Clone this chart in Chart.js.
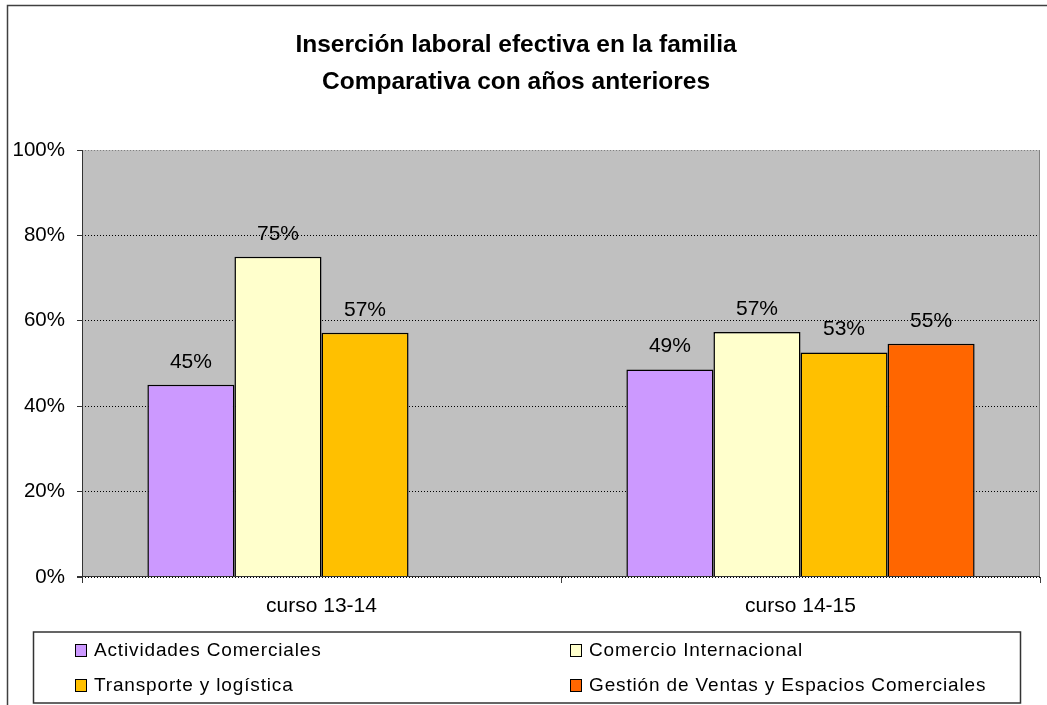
<!DOCTYPE html>
<html><head><meta charset="utf-8">
<script src="https://cdn.jsdelivr.net/npm/chart.js@4.4.1/dist/chart.umd.min.js"></script>
<style>html,body{margin:0;padding:0;background:#fff;overflow:hidden}</style>
</head><body>
<canvas id="c" width="1047" height="705"></canvas>
<script>
const titleLines = ['Inserción laboral efectiva en la familia', 'Comparativa con años anteriores'];
const categories = ['curso 13-14', 'curso 14-15'];
const seriesNames = ['Actividades Comerciales', 'Comercio Internacional', 'Transporte y logística', 'Gestión de Ventas y Espacios Comerciales'];
const actividadesComerciales = [0.45, 0.486];
const comercioInternacional = [0.75, 0.574];
const transporteLogistica = [0.572, 0.526];
const gestionVentas = [null, 0.546];
const yTickValues = [0, 0.2, 0.4, 0.6, 0.8, 1.0];
const seriesColors = ['#CC99FF', '#FFFFCC', '#FFC000', '#FF6600'];

const FONT = 'Arial, "Liberation Sans", sans-serif';
const seriesValues = [actividadesComerciales, comercioInternacional, transporteLogistica, gestionVentas];

const framePlugin = {
  id: 'frame',
  beforeDraw(chart) {
    const {ctx, chartArea: a} = chart;
    ctx.save();
    ctx.fillStyle = '#C0C0C0';
    ctx.fillRect(a.left, a.top, a.right - a.left, a.bottom - a.top);
    // outer frame
    ctx.strokeStyle = '#404040';
    ctx.lineWidth = 1.5;
    ctx.beginPath();
    ctx.moveTo(7.5, 710); ctx.lineTo(7.5, 5.5); ctx.lineTo(1060, 5.5);
    ctx.stroke();
    // title
    ctx.fillStyle = '#000';
    ctx.font = 'bold 24.5px ' + FONT;
    ctx.textAlign = 'center';
    ctx.textBaseline = 'middle';
    ctx.fillText(titleLines[0], 516, 45);
    ctx.fillText(titleLines[1], 516, 82);
    ctx.restore();
  },
  afterDraw(chart) {
    const {ctx, chartArea: a} = chart;
    ctx.save();
    // plot borders
    ctx.lineWidth = 1;
    ctx.strokeStyle = '#808080';
    ctx.beginPath();
    ctx.moveTo(Math.round(a.right) - 0.5, a.top); ctx.lineTo(Math.round(a.right) - 0.5, a.bottom);
    ctx.stroke();
    ctx.strokeStyle = '#333';
    ctx.beginPath();
    ctx.moveTo(Math.round(a.left) + 0.5, a.top); ctx.lineTo(Math.round(a.left) + 0.5, a.bottom + 6);
    ctx.moveTo(a.left - 5, Math.round(a.bottom) - 0.5); ctx.lineTo(a.right, Math.round(a.bottom) - 0.5);
    ctx.stroke();

    // data labels
    ctx.fillStyle = '#000';
    ctx.font = '21px ' + FONT;
    ctx.textAlign = 'center';
    ctx.textBaseline = 'middle';
    chart.data.datasets.forEach((ds, di) => {
      const meta = chart.getDatasetMeta(di);
      meta.data.forEach((bar, i) => {
        const v = ds.data[i];
        if (v === null || v === undefined) return;
        ctx.fillText(Math.round(v * 100) + '%', bar.x, bar.y - 23);
      });
    });

    // legend
    ctx.strokeStyle = '#333';
    ctx.lineWidth = 1.5;
    ctx.strokeRect(33.5, 632, 987, 71);
    const cols = [75, 570];
    const rows = [650, 685];
    ctx.textAlign = 'left';
    ctx.font = '19px ' + FONT;
    if ('letterSpacing' in ctx) ctx.letterSpacing = '0.85px';
    chart.data.datasets.forEach((ds, i) => {
      const x = cols[i % 2], y = rows[Math.floor(i / 2)];
      ctx.fillStyle = ds.backgroundColor;
      ctx.fillRect(x, y - 6, 12, 12);
      ctx.strokeStyle = '#000';
      ctx.lineWidth = 1;
      ctx.strokeRect(x + 0.5, y - 5.5, 11, 12);
      ctx.fillStyle = '#000';
      ctx.fillText(ds.label, x + 19, y + 1);
    });
    ctx.restore();
  }
};

new Chart(document.getElementById('c'), {
  type: 'bar',
  data: {
    labels: categories,
    datasets: seriesNames.map((name, i) => ({
      label: name,
      data: seriesValues[i],
      backgroundColor: seriesColors[i],
      borderColor: '#000',
      borderWidth: 1.5,
      categoryPercentage: 0.727,
      barPercentage: 1.0
    }))
  },
  options: {
    responsive: false,
    animation: false,
    devicePixelRatio: 1,
    layout: {padding: {left: 12, right: 7, top: 150, bottom: 78}},
    plugins: {
      legend: {display: false},
      tooltip: {enabled: false},
      title: {display: false}
    },
    scales: {
      x: {
        grid: {display: true, drawOnChartArea: false, drawTicks: true, tickLength: 6, tickColor: '#404040', offset: true},
        border: {display: false},
        ticks: {color: '#000', font: {family: FONT, size: 21}, padding: 11, maxRotation: 0},
        afterFit(s) { s.height = 50; }
      },
      y: {
        min: 0, max: 1,
        afterBuildTicks(s) { s.ticks = yTickValues.map(v => ({value: v})); },
        ticks: {color: '#000', font: {family: FONT, size: 20.5}, padding: 12,
          callback: v => Math.round(v * 100) + '%'},
        grid: {
          color: ctx => (ctx.tick && ctx.tick.value === 1) ? '#808080' : '#000',
          tickColor: '#333', tickLength: 5, lineWidth: 1
        },
        border: {display: false, dash: [1, 2]},
        afterFit(s) { s.width = 70; }
      }
    }
  },
  plugins: [framePlugin]
});
</script>
</body></html>
